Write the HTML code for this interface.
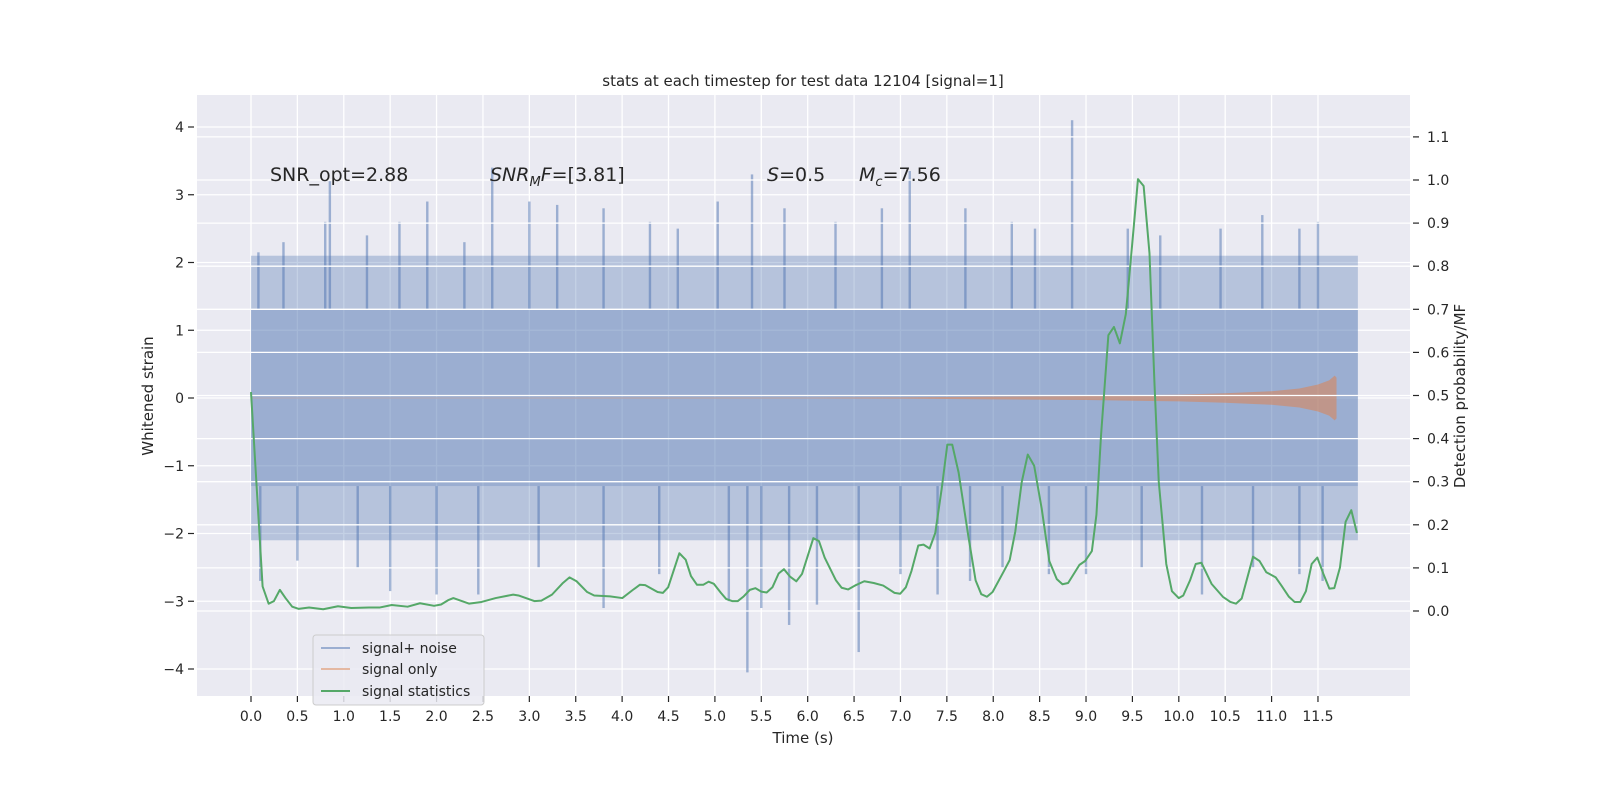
<!DOCTYPE html>
<html><head><meta charset="utf-8"><style>
html,body{margin:0;padding:0;background:#fff;}
svg{display:block;font-family:"DejaVu Sans","Liberation Sans",sans-serif;}
</style></head><body>
<svg id="chart" width="1600" height="800" xmlns="http://www.w3.org/2000/svg">
<rect x="0" y="0" width="1600" height="800" fill="#ffffff"/>
<rect x="197" y="95" width="1213" height="601" fill="#eaeaf2"/>
<g id="gridLeft"></g>
<g id="noise"></g>
<g id="chirp"></g>
<g id="gridRight"></g>
<g id="stats"></g>
<g id="axes"></g>
<text x="803" y="86" text-anchor="middle" font-size="15" fill="#262626">stats at each timestep for test data 12104 [signal=1]</text>
<g font-size="19" fill="#262626">
<text x="270" y="181">SNR_opt=2.88</text>
<text x="490" y="181"><tspan font-style="italic">SNR</tspan><tspan font-style="italic" font-size="13" dy="5">M</tspan><tspan font-style="italic" dy="-5">F</tspan>=[3.81]</text>
<text x="767" y="181"><tspan font-style="italic">S</tspan>=0.5</text>
<text x="859" y="181"><tspan font-style="italic">M</tspan><tspan font-style="italic" font-size="13" dy="5">c</tspan><tspan dy="-5">=7.56</tspan></text>
</g>
<text x="803" y="743" text-anchor="middle" font-size="15" fill="#262626">Time (s)</text>
<text transform="translate(153,396) rotate(-90)" text-anchor="middle" font-size="15" fill="#262626">Whitened strain</text>
<text transform="translate(1465,396) rotate(-90)" text-anchor="middle" font-size="15" fill="#262626">Detection probability/MF</text>
<g id="legend">
<rect x="313" y="635" width="171" height="70" rx="3" fill="#eaeaf2" fill-opacity="0.85" stroke="#cccccc"/>
<line x1="321" y1="648" x2="350" y2="648" stroke="#4c72b0" stroke-opacity="0.5" stroke-width="2"/>
<text x="362" y="653" font-size="14" fill="#262626">signal+ noise</text>
<line x1="321" y1="669" x2="350" y2="669" stroke="#dd8452" stroke-opacity="0.5" stroke-width="2"/>
<text x="362" y="674" font-size="14" fill="#262626">signal only</text>
<line x1="321" y1="691" x2="350" y2="691" stroke="#55a868" stroke-width="2"/>
<text x="362" y="696" font-size="14" fill="#262626">signal statistics</text>
</g>
</svg>
<script>
const xTicks = [0,0.5,1,1.5,2,2.5,3,3.5,4,4.5,5,5.5,6,6.5,7,7.5,8,8.5,9,9.5,10,10.5,11,11.5];
const xTickLabels = ["0.0","0.5","1.0","1.5","2.0","2.5","3.0","3.5","4.0","4.5","5.0","5.5","6.0","6.5","7.0","7.5","8.0","8.5","9.0","9.5","10.0","10.5","11.0","11.5"];
const yLeftTicks = [4,3,2,1,0,-1,-2,-3,-4];
const yLeftLabels = ["4","3","2","1","0","\u22121","\u22122","\u22123","\u22124"];
const yRightTicks = [1.1,1.0,0.9,0.8,0.7,0.6,0.5,0.4,0.3,0.2,0.1,0.0];
const yRightLabels = ["1.1","1.0","0.9","0.8","0.7","0.6","0.5","0.4","0.3","0.2","0.1","0.0"];
const noiseStart = 0.0, noiseEnd = 11.93;
const coreHi = 1.3, coreLo = -1.3;
const fringeHi = 2.1, fringeLo = -2.1;
const upSpikeT = [0.08,0.35,0.8,0.85,1.25,1.6,1.9,2.3,2.6,3.0,3.3,3.8,4.3,4.6,5.03,5.4,5.75,6.3,6.8,7.1,7.7,8.2,8.45,8.85,9.45,9.8,10.45,10.9,11.3,11.5];
const upSpikeV = [2.15,2.3,2.6,3.2,2.4,2.6,2.9,2.3,3.4,2.9,2.85,2.8,2.6,2.5,2.9,3.3,2.8,2.6,2.8,3.35,2.8,2.6,2.5,4.1,2.5,2.4,2.5,2.7,2.5,2.6];
const loSpikeT = [0.1,0.5,1.15,1.5,2.0,2.45,3.1,3.8,4.4,5.15,5.35,5.5,5.8,6.1,6.55,7.0,7.4,7.75,8.1,8.6,9.0,9.6,10.25,10.8,11.3,11.55];
const loSpikeV = [-2.7,-2.4,-2.5,-2.85,-2.9,-2.9,-2.5,-3.1,-2.6,-3.0,-4.05,-3.1,-3.35,-3.05,-3.75,-2.6,-2.9,-2.7,-2.5,-2.6,-2.6,-2.5,-2.9,-2.5,-2.6,-2.7];
const chirpT = [0,6,7,8,9,10,10.5,11,11.3,11.5,11.62,11.68,11.7];
const chirpA = [0.003,0.006,0.01,0.02,0.03,0.05,0.07,0.1,0.14,0.2,0.26,0.33,0.3];
const statT = [0,0.125,0.19,0.247,0.311,0.372,0.444,0.512,0.626,0.778,0.937,1.081,1.271,1.385,1.517,1.688,1.821,1.973,2.049,2.124,2.181,2.352,2.485,2.637,2.826,2.883,3.054,3.13,3.244,3.357,3.433,3.509,3.623,3.699,3.87,4.002,4.116,4.192,4.249,4.382,4.439,4.496,4.617,4.685,4.742,4.806,4.875,4.932,4.989,5.065,5.121,5.186,5.247,5.311,5.376,5.436,5.5,5.558,5.62,5.687,5.744,5.809,5.878,5.939,6.061,6.122,6.183,6.305,6.366,6.435,6.509,6.61,6.712,6.814,6.936,6.997,7.058,7.119,7.192,7.249,7.314,7.375,7.444,7.505,7.558,7.627,7.729,7.81,7.871,7.932,7.993,8.116,8.177,8.238,8.307,8.372,8.441,8.522,8.604,8.685,8.746,8.807,8.929,8.99,9.063,9.112,9.161,9.241,9.301,9.365,9.429,9.489,9.56,9.621,9.684,9.738,9.784,9.865,9.926,9.999,10.048,10.121,10.182,10.243,10.353,10.475,10.556,10.617,10.678,10.8,10.87,10.943,11.045,11.106,11.187,11.248,11.31,11.37,11.432,11.493,11.562,11.623,11.676,11.737,11.798,11.859,11.92];
const statV = [0.508,0.057,0.017,0.023,0.049,0.03,0.01,0.005,0.008,0.004,0.011,0.007,0.008,0.008,0.014,0.01,0.018,0.012,0.015,0.025,0.03,0.017,0.021,0.03,0.038,0.036,0.023,0.024,0.038,0.064,0.078,0.069,0.044,0.036,0.034,0.03,0.049,0.061,0.06,0.044,0.042,0.055,0.134,0.119,0.081,0.061,0.061,0.068,0.063,0.042,0.028,0.023,0.023,0.034,0.049,0.053,0.045,0.043,0.055,0.087,0.097,0.08,0.069,0.086,0.169,0.162,0.124,0.071,0.054,0.05,0.059,0.069,0.065,0.059,0.042,0.04,0.055,0.093,0.152,0.154,0.145,0.181,0.283,0.386,0.386,0.321,0.177,0.071,0.039,0.033,0.044,0.093,0.118,0.185,0.299,0.363,0.337,0.238,0.116,0.074,0.062,0.065,0.107,0.116,0.139,0.223,0.405,0.64,0.659,0.621,0.689,0.83,1.002,0.986,0.83,0.527,0.3,0.109,0.046,0.03,0.036,0.071,0.109,0.112,0.063,0.033,0.021,0.017,0.029,0.126,0.116,0.09,0.078,0.059,0.033,0.021,0.021,0.046,0.109,0.124,0.084,0.052,0.053,0.101,0.207,0.234,0.181];

const NS='http://www.w3.org/2000/svg';
const X0=197,X1=1410,Y0=95,Y1=696;
function xS(t){return 251+92.78*t;}
function yL(v){return 398-67.75*v;}
function yR(p){return 611-431*p;}
function mk(tag,attrs,parent){const e=document.createElementNS(NS,tag);for(const k in attrs)e.setAttribute(k,attrs[k]);parent.appendChild(e);return e;}

const gL=document.getElementById('gridLeft');
xTicks.forEach((t,i)=>{
  const l=mk('line',{x1:xS(t),x2:xS(t),y1:Y0,y2:Y1,stroke:'#ffffff','stroke-width':1.3},gL);
  
  
});
yLeftTicks.forEach(v=>{
  const l=mk('line',{x1:X0,x2:X1,y1:yL(v),y2:yL(v),stroke:'#ffffff','stroke-width':1.3},gL);
  
  
});

const gN=document.getElementById('noise');
const nw=xS(noiseEnd)-xS(noiseStart);
const frU=mk('rect',{x:xS(noiseStart),y:yL(fringeHi),width:nw,height:yL(coreHi)-yL(fringeHi),fill:'#4c72b0','fill-opacity':0.33},gN);


const frD=mk('rect',{x:xS(noiseStart),y:yL(coreLo),width:nw,height:yL(fringeLo)-yL(coreLo),fill:'#4c72b0','fill-opacity':0.33},gN);


const core=mk('rect',{x:xS(noiseStart),y:yL(coreHi),width:nw,height:yL(coreLo)-yL(coreHi),fill:'#4c72b0','fill-opacity':0.5},gN);


upSpikeT.forEach((t,i)=>{
  const r=mk('rect',{x:xS(t)-1.2,y:yL(upSpikeV[i]),width:2.4,height:yL(coreHi)-yL(upSpikeV[i]),fill:'#4c72b0','fill-opacity':0.5},gN);
  
  
});
loSpikeT.forEach((t,i)=>{
  const r=mk('rect',{x:xS(t)-1.2,y:yL(coreLo),width:2.4,height:yL(loSpikeV[i])-yL(coreLo),fill:'#4c72b0','fill-opacity':0.5},gN);
  
  
});

const gC=document.getElementById('chirp');
const chirpTop=chirpT.map((t,i)=>xS(t)+','+yL(chirpA[i]));
const chirpBot=chirpT.map((t,i)=>xS(t)+','+yL(-chirpA[i])).reverse();
const cp=mk('polygon',{points:chirpTop.concat(chirpBot).join(' '),fill:'#dd8452','fill-opacity':0.55},gC);



const gR=document.getElementById('gridRight');
yRightTicks.forEach(p=>{
  const l=mk('line',{x1:X0,x2:X1,y1:yR(p),y2:yR(p),stroke:'#ffffff','stroke-width':1.3},gR);
  
  
});

const gS=document.getElementById('stats');
const sl=mk('polyline',{points:statT.map((t,i)=>xS(t)+','+yR(statV[i])).join(' '),fill:'none',stroke:'#55a868','stroke-width':2,'stroke-linejoin':'round'},gS);



const gA=document.getElementById('axes');
xTicks.forEach((t,i)=>{
  const tk=mk('line',{x1:xS(t),x2:xS(t),y1:Y1,y2:Y1+6,stroke:'#262626','stroke-width':1.2},gA);
  
  
  const tx=mk('text',{x:xS(t),y:Y1+25,'text-anchor':'middle','font-size':14,fill:'#262626'},gA);
  tx.textContent=xTickLabels[i];
  
  
});
yLeftTicks.forEach((v,i)=>{
  const tk=mk('line',{x1:X0-9,x2:X0-3,y1:yL(v),y2:yL(v),stroke:'#262626','stroke-width':1.2},gA);
  
  
  const tx=mk('text',{x:X0-13,y:yL(v)+5,'text-anchor':'end','font-size':14,fill:'#262626'},gA);
  tx.textContent=yLeftLabels[i];
  
  
});
yRightTicks.forEach((p,i)=>{
  const tk=mk('line',{x1:X1+3,x2:X1+9,y1:yR(p),y2:yR(p),stroke:'#262626','stroke-width':1.2},gA);
  
  
  const tx=mk('text',{x:X1+17,y:yR(p)+5,'text-anchor':'start','font-size':14,fill:'#262626'},gA);
  tx.textContent=yRightLabels[i];
  
  
});
const svgEl=document.getElementById('chart');
svgEl.appendChild(document.getElementById('legend'));
</script>
</body></html>
